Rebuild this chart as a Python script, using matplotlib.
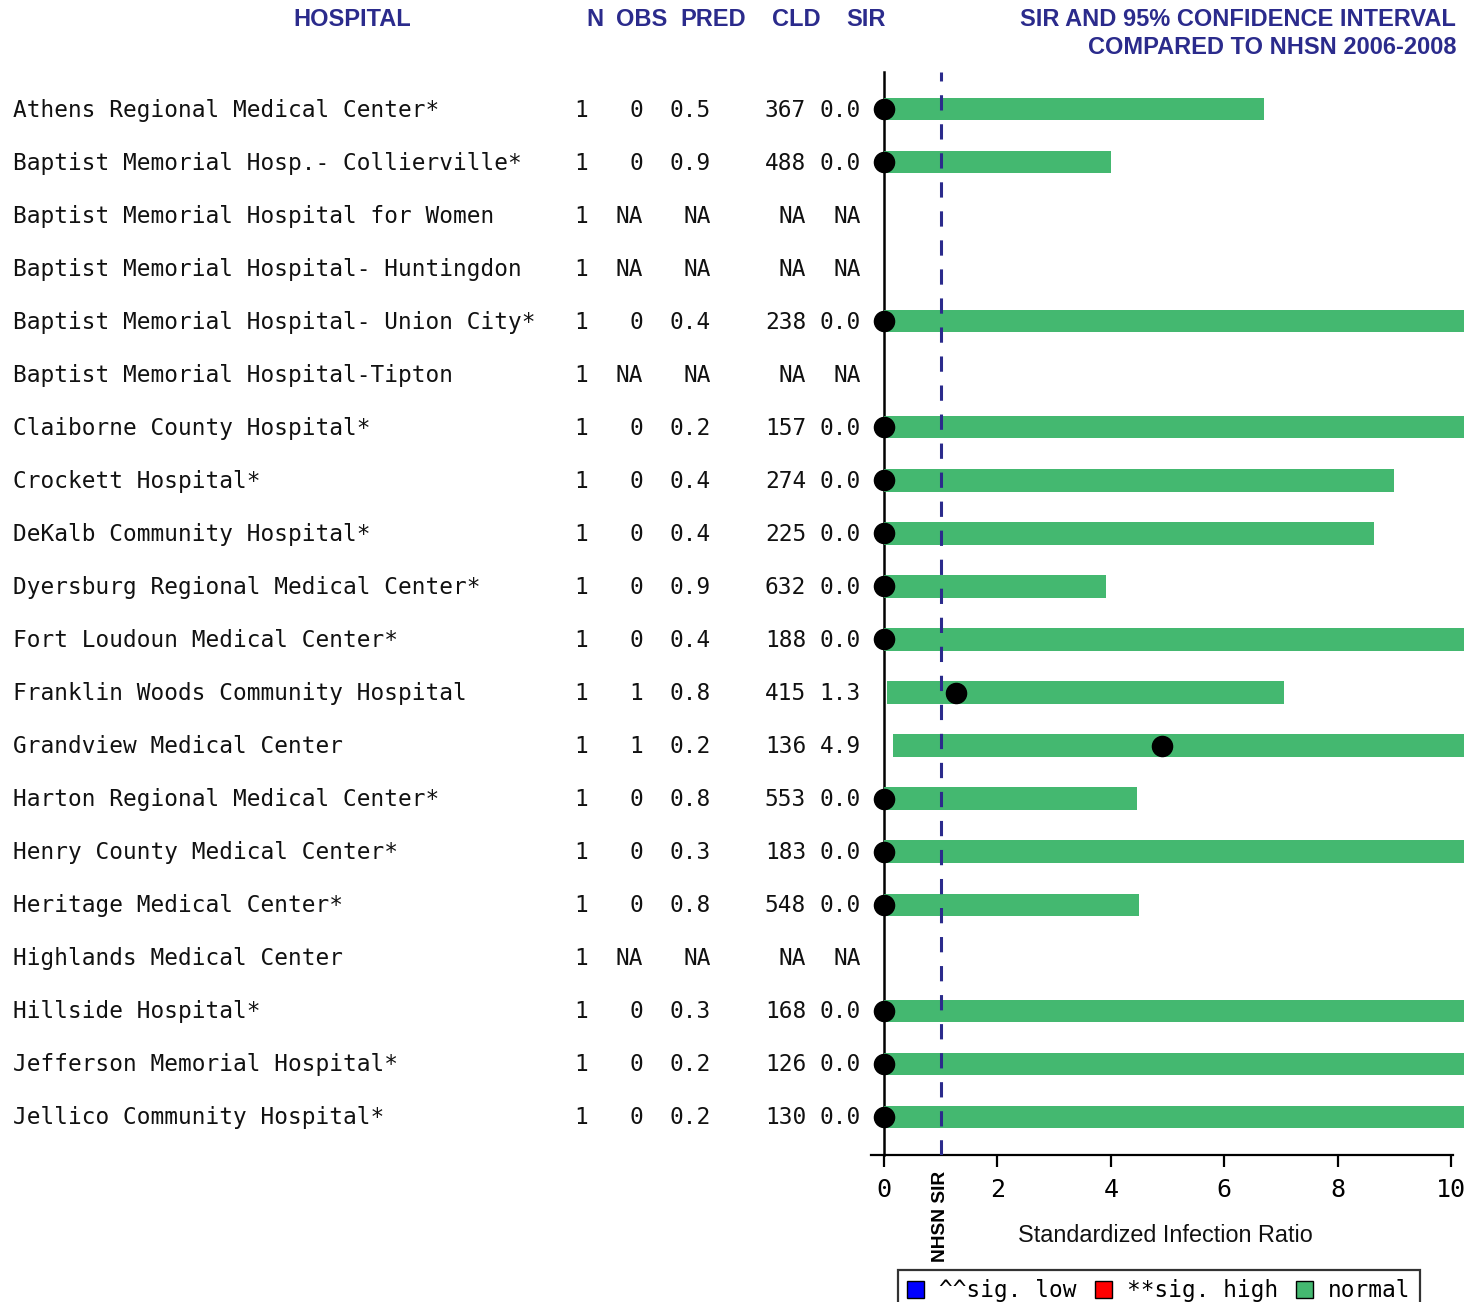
import matplotlib.pyplot as plt
from matplotlib.transforms import blended_transform_factory
from matplotlib.patches import Patch

# table columns
hospitals = [
    "Athens Regional Medical Center*",
    "Baptist Memorial Hosp.- Collierville*",
    "Baptist Memorial Hospital for Women",
    "Baptist Memorial Hospital- Huntingdon",
    "Baptist Memorial Hospital- Union City*",
    "Baptist Memorial Hospital-Tipton",
    "Claiborne County Hospital*",
    "Crockett Hospital*",
    "DeKalb Community Hospital*",
    "Dyersburg Regional Medical Center*",
    "Fort Loudoun Medical Center*",
    "Franklin Woods Community Hospital",
    "Grandview Medical Center",
    "Harton Regional Medical Center*",
    "Henry County Medical Center*",
    "Heritage Medical Center*",
    "Highlands Medical Center",
    "Hillside Hospital*",
    "Jefferson Memorial Hospital*",
    "Jellico Community Hospital*",
]
n_col = ["1"] * 20
obs = ["0", "0", "NA", "NA", "0", "NA", "0", "0", "0", "0",
       "0", "1", "1", "0", "0", "0", "NA", "0", "0", "0"]
pred = ["0.5", "0.9", "NA", "NA", "0.4", "NA", "0.2", "0.4", "0.4", "0.9",
        "0.4", "0.8", "0.2", "0.8", "0.3", "0.8", "NA", "0.3", "0.2", "0.2"]
cld = ["367", "488", "NA", "NA", "238", "NA", "157", "274", "225", "632",
       "188", "415", "136", "553", "183", "548", "NA", "168", "126", "130"]
sir_txt = ["0.0", "0.0", "NA", "NA", "0.0", "NA", "0.0", "0.0", "0.0", "0.0",
           "0.0", "1.3", "4.9", "0.0", "0.0", "0.0", "NA", "0.0", "0.0", "0.0"]

# SIR and 95% CI (None = not available)
sir = [0.0, 0.0, None, None, 0.0, None, 0.0, 0.0, 0.0, 0.0,
       0.0, 1.27, 4.9, 0.0, 0.0, 0.0, None, 0.0, 0.0, 0.0]
ci_low = [0, 0, None, None, 0, None, 0, 0, 0, 0,
          0, 0.06, 0.15, 0, 0, 0, None, 0, 0, 0]
ci_high = [6.7, 4.0, None, None, 10.5, None, 18.0, 9.0, 8.64, 3.92,
           10.5, 7.05, 27.0, 4.46, 12.0, 4.5, None, 12.0, 18.0, 18.0]

W, H = 1478, 1302
def fx(px):
    return px / W
def fy(py):
    return 1 - py / H

navy = "#2b2b8c"
green = "#44b870"
mono = "DejaVu Sans Mono"
sans = "Liberation Sans"
body_fs = 16.4

fig = plt.figure(figsize=(W / 100, H / 100), dpi=100)
ax = fig.add_axes([fx(871), fy(1155), fx(1464) - fx(871), fy(72) - fy(1155)])

rows = list(range(len(hospitals)))
ax.set_xlim(-0.23, 10.23)
ax.set_ylim(19.72, -0.70)

for i in rows:
    if sir[i] is None:
        continue
    ax.barh(i, ci_high[i] - ci_low[i], left=ci_low[i], height=0.42,
            color=green, zorder=2)
    ax.plot(sir[i], i, "o", color="black", ms=14.5, clip_on=False, zorder=4)

ax.axvline(1, color=navy, lw=2.2, linestyle=(0, (5, 4.5)), zorder=3)

for s in ["top", "right"]:
    ax.spines[s].set_visible(False)
ax.spines["left"].set_position(("data", 0))
ax.spines["left"].set_linewidth(1.8)
ax.spines["left"].set_zorder(1)
ax.spines["bottom"].set_linewidth(1.6)
ax.spines["bottom"].set_bounds(-0.23, 10.03)
ax.set_yticks([])
ax.set_xticks([0, 2, 4, 6, 8, 10])
ax.tick_params(axis="x", direction="out", length=8.5, width=1.6, pad=8,
               labelsize=18)
for lab in ax.get_xticklabels():
    lab.set_fontfamily(mono)

# table text
tr = blended_transform_factory(fig.transFigure, ax.transData)
for i in rows:
    ax.text(fx(13), i + 0.02, hospitals[i], transform=tr, ha="left", va="center",
            fontsize=body_fs, family=mono, color="#111111", clip_on=False)
    for col, xr in [(n_col, 588), (obs, 643), (pred, 711), (cld, 806), (sir_txt, 861)]:
        ax.text(fx(xr), i + 0.02, col[i], transform=tr, ha="right", va="center",
                fontsize=body_fs, family=mono, color="#111111", clip_on=False)

# headers
hdr = dict(fontsize=17.0, fontweight="bold", family=sans, color=navy, va="center")
fig.text(fx(352), fy(20), "HOSPITAL", ha="center", **hdr)
fig.text(fx(595), fy(20), "N", ha="center", **hdr)
fig.text(fx(642), fy(20), "OBS", ha="center", **hdr)
fig.text(fx(713), fy(20), "PRED", ha="center", **hdr)
fig.text(fx(796), fy(20), "CLD", ha="center", **hdr)
fig.text(fx(866), fy(20), "SIR", ha="center", **hdr)
fig.text(fx(1456), fy(20), "SIR AND 95% CONFIDENCE INTERVAL", ha="right", **hdr)
fig.text(fx(1456), fy(48), "COMPARED TO NHSN 2006-2008", ha="right", **hdr)

fig.text(fx(1165), fy(1235), "Standardized Infection Ratio", ha="center",
         va="center", fontsize=16.8, family=sans, color="#111111")
fig.text(fx(941), fy(1216), "NHSN SIR", rotation=90, ha="center", va="center",
         fontsize=13.8, fontweight="bold", family=sans, color="black")

handles = [Patch(facecolor="#0000ff", edgecolor="black", label="^^sig. low"),
           Patch(facecolor="#ff0000", edgecolor="black", label="**sig. high"),
           Patch(facecolor=green, edgecolor="black", label="normal")]
leg = fig.legend(handles=handles, loc="upper left", bbox_to_anchor=(fx(898), fy(1270)),
                 ncol=3, frameon=True, fancybox=False, borderaxespad=0,
                 handlelength=0.75, handleheight=0.75, handletextpad=0.65,
                 columnspacing=0.8, borderpad=0.4,
                 prop={"family": mono, "size": body_fs})
leg.get_frame().set_edgecolor("black")
leg.get_frame().set_linewidth(1.6)

fig.savefig("out.png", dpi=100)
